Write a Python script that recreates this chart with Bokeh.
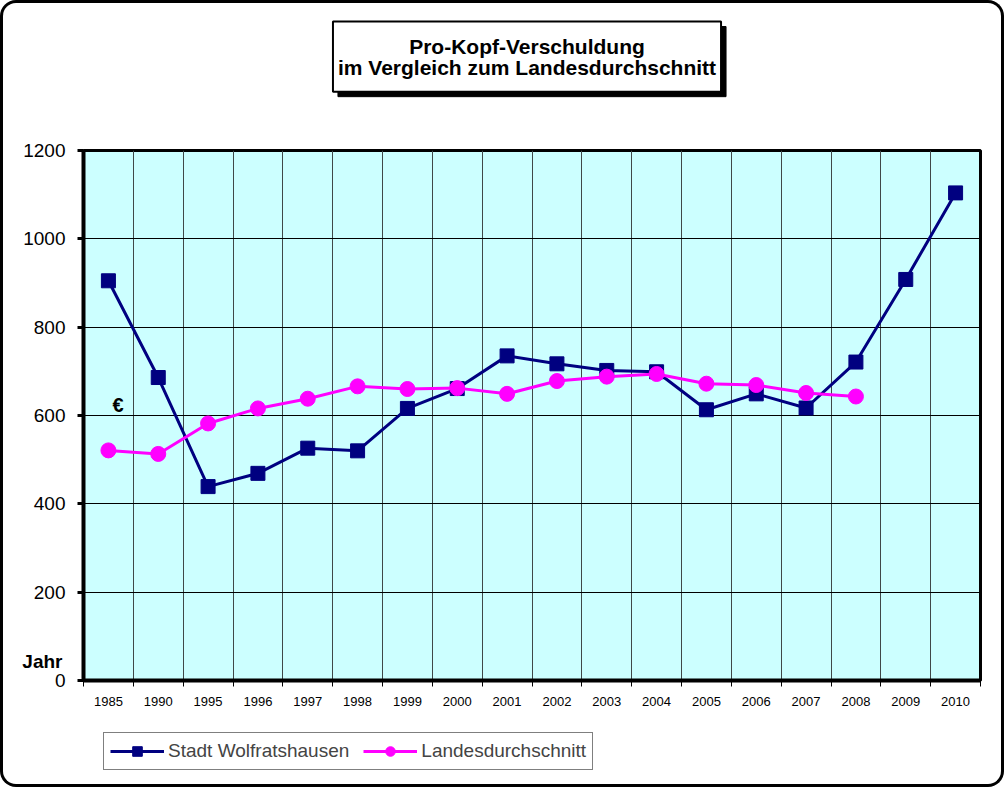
from bokeh.plotting import figure
from bokeh.layouts import column
from bokeh.models import (FactorRange, Range1d, FixedTicker, LinearAxis, CategoricalAxis,
                          Legend, LegendItem, Label)
from bokeh.embed import file_html
from bokeh.resources import INLINE

# ---- data ----
years = ["1985", "1990", "1995", "1996", "1997", "1998", "1999", "2000", "2001",
         "2002", "2003", "2004", "2005", "2006", "2007", "2008", "2009", "2010"]
stadt = [905, 686, 439, 469, 526, 520, 616, 661, 735, 717, 702, 699, 613, 649, 617, 721, 908, 1104]
landes_years = years[:16]
landes = [521, 513, 582, 616, 638, 666, 660, 662, 649, 678, 688, 694, 672, 669, 651, 643]
y_ticks = [0, 200, 400, 600, 800, 1000, 1200]
title_text = "Pro-Kopf-Verschuldung\nim Vergleich zum Landesdurchschnitt"
series_names = ["Stadt Wolfratshausen", "Landesdurchschnitt"]
unit_label = "€"
axis_caption = "Jahr"

FONT = "Liberation Sans"
W = 1004
H_MAIN, H_LEG = 729, 58
B = 3  # outer border width

p = figure(width=W, height=H_MAIN, x_range=FactorRange(factors=years), y_range=Range1d(0, 1200),
           output_backend="svg", toolbar_location=None, x_axis_location=None,
           y_axis_location="left",
           min_border_left=80, min_border_right=27, min_border_top=147, min_border_bottom=52,
           background_fill_color="#CCFFFF", border_fill_color="white", border_fill_alpha=0,
           outline_line_color="black", outline_line_width=3)
p.styles = {"border": f"{B}px solid black", "border-bottom": "none",
            "border-radius": "16px 16px 0 0",
            "box-sizing": "border-box", "overflow": "hidden"}

# y axis
ya = p.yaxis[0]
ya.ticker = FixedTicker(ticks=y_ticks)
ya.major_label_text_font = FONT
ya.major_label_text_font_size = "19px"
ya.major_label_text_color = "black"
ya.axis_line_width = 4
ya.axis_line_color = "black"
ya.major_tick_out = 6
ya.major_tick_in = 0
ya.major_tick_line_width = 3
ya.minor_tick_line_color = None
ya.major_label_standoff = 12

# x axis: tick marks at category boundaries, labels at category centres
nb = len(years)
xt = LinearAxis(ticker=FixedTicker(ticks=list(range(nb + 1))),
                major_label_overrides={i: "" for i in range(nb + 1)},
                major_label_text_font_size="1px",
                major_tick_out=6, major_tick_in=0, major_tick_line_width=1,
                axis_line_width=4, axis_line_color="black",
                minor_tick_line_color=None, major_label_standoff=0)
p.add_layout(xt, "below")
xc = CategoricalAxis(axis_line_color=None, major_tick_line_color=None,
                     minor_tick_line_color=None,
                     major_label_text_font=FONT, major_label_text_font_size="13px",
                     major_label_text_color="black", major_label_standoff=4)
p.add_layout(xc, "below")

# grids
p.ygrid.ticker = FixedTicker(ticks=y_ticks)
p.ygrid.grid_line_color = "black"
p.ygrid.grid_line_width = 1
p.xgrid.ticker = FixedTicker(ticks=list(range(1, nb)))
p.xgrid.grid_line_color = "#404848"
p.xgrid.grid_line_width = 1

# series
S_COL, L_COL = "#000080", "#FF00FF"
p.line(years, stadt, line_color=S_COL, line_width=3)
p.scatter(years, stadt, marker="square", size=14, fill_color=S_COL, line_color=S_COL)
p.line(landes_years, landes, line_color=L_COL, line_width=3)
p.scatter(landes_years, landes, marker="circle", size=15, fill_color=L_COL, line_color=L_COL)

# title box with shadow (canvas coordinates)
tx, ty = 520.5, 15
for dx, bg, bw in [(5, "black", 1), (0, "white", 2)]:
    p.add_layout(Label(x=tx + dx, y=ty + dx, x_units="canvas", y_units="canvas", text=title_text,
                       text_align="center", text_baseline="top", text_line_height=0.92,
                       text_font=FONT, text_font_style="bold", text_font_size="21px",
                       text_color="black", background_fill_color=bg,
                       border_line_color="black", border_line_width=bw, padding=(5, 13)), "above")

# captions
p.add_layout(Label(x=106, y=398, x_units="canvas", y_units="canvas", text=unit_label,
                   text_align="left", text_baseline="alphabetic",
                   text_font=FONT, text_font_style="bold", text_font_size="20px",
                   text_color="black"))
p.add_layout(Label(x=56, y=655, x_units="canvas", y_units="canvas", text=axis_caption,
                   text_align="right", text_baseline="alphabetic",
                   text_font=FONT, text_font_style="bold", text_font_size="19px",
                   text_color="black"), "below")

# legend strip (separate figure so the legend is not clipped)
nan = float("nan")
pl = figure(width=W, height=H_LEG, x_range=Range1d(0, 1), y_range=Range1d(0, 1),
            output_backend="svg", toolbar_location=None, x_axis_location=None,
            y_axis_location=None, min_border_left=0, min_border_right=0,
            min_border_top=0, min_border_bottom=0, outline_line_color=None,
            background_fill_color="white", border_fill_alpha=0)
pl.xgrid.visible = False
pl.ygrid.visible = False
pl.styles = {"border": f"{B}px solid black", "border-top": "none",
             "border-radius": "0 0 16px 16px",
             "box-sizing": "border-box", "overflow": "hidden"}
l1 = pl.line(x=[nan], y=[nan], line_color=S_COL, line_width=3)
m1 = pl.scatter(x=[nan], y=[nan], marker="square", size=14, fill_color=S_COL, line_color=S_COL)
l2 = pl.line(x=[nan], y=[nan], line_color=L_COL, line_width=3)
m2 = pl.scatter(x=[nan], y=[nan], marker="circle", size=15, fill_color=L_COL, line_color=L_COL)
legend = Legend(items=[LegendItem(label=series_names[0], renderers=[l1, m1]),
                       LegendItem(label=series_names[1], renderers=[l2, m2])],
                orientation="horizontal", location=(20, 17),
                border_line_color="black", border_line_width=1,
                background_fill_color="white", background_fill_alpha=1,
                label_text_font=FONT, label_text_font_size="19px",
                glyph_width=54, glyph_height=24, label_standoff=4,
                spacing=14, padding=6, margin=0)
pl.add_layout(legend, "center")

layout = column(p, pl, spacing=0)
open("out.html", "w").write(file_html(layout, INLINE))
